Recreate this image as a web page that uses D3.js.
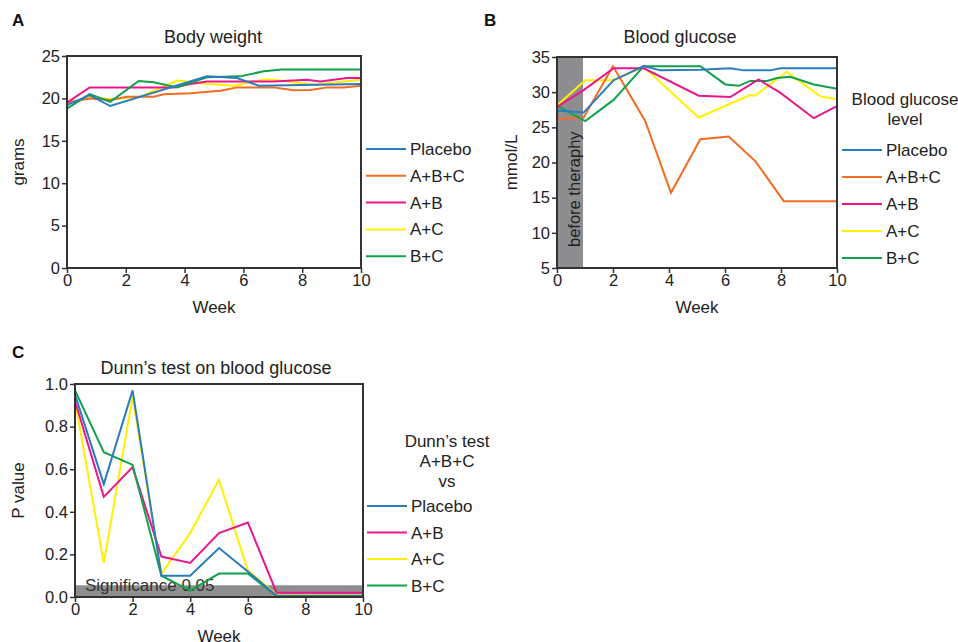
<!DOCTYPE html>
<html lang="en">
<head>
<meta charset="utf-8">
<script src="https://cdn.jsdelivr.net/npm/d3@7"></script>
<style>
  body { margin: 0; background: #fff; }
  svg { font-family: "Liberation Sans", Arial, sans-serif; }
  .axis path, .axis line { stroke: #333; }
  .axis text { fill: #222; font-size: 16.5px; }
</style>
</head>
<body>
<script>
// ---- data ----
var colors = { 'Placebo': '#2b7bbf', 'A+B+C': '#f26c22', 'A+B': '#ec168c', 'A+C': '#fff000', 'B+C': '#12a04b' };

// A: body weight (grams)
var bwPlaceboWeeks = [0, 0.77, 1.47, 4.76, 5.78, 6.52, 10];
var bwPlacebo      = [19.2, 20.4, 19.1, 22.6, 22.4, 21.5, 21.7];
var bwABCWeeks = [0, 0.77, 1.47, 2.04, 2.95, 3.29, 4.2, 5.22, 5.78, 7.03, 7.71, 8.28, 8.84, 9.41, 10];
var bwABC      = [19.5, 20.0, 19.8, 20.2, 20.2, 20.5, 20.6, 20.9, 21.3, 21.3, 20.95, 21.0, 21.3, 21.3, 21.5];
var bwABWeeks = [0, 0.77, 3.63, 4.2, 4.76, 7.03, 8.16, 8.62, 9.52, 10];
var bwAB      = [19.5, 21.3, 21.3, 21.7, 22.0, 22.0, 22.2, 22.0, 22.4, 22.4];
var bwACWeeks = [0, 0.77, 1.47, 2.49, 3.74, 4.54, 5.67, 6.8, 7.71, 8.39, 10];
var bwAC      = [19.4, 20.2, 19.9, 20.2, 22.1, 21.8, 21.5, 22.3, 21.9, 21.6, 22.2];
var bwBCWeeks = [0, 0.77, 1.47, 2.44, 2.95, 3.74, 4.76, 5.9, 6.69, 7.31, 10];
var bwBC      = [18.8, 20.5, 19.6, 22.05, 21.9, 21.3, 22.5, 22.6, 23.2, 23.4, 23.4];

// B: blood glucose (mmol/L)
var bgPlaceboWeeks = [0, 0.95, 2.02, 3.1, 3.69, 5.12, 6.19, 6.67, 7.62, 7.98, 10];
var bgPlacebo      = [27.4, 27.1, 31.7, 33.7, 33.1, 33.2, 33.4, 33.1, 33.1, 33.4, 33.4];
var bgABCWeeks = [0, 0.95, 2.0, 3.15, 4.07, 5.12, 6.13, 7.08, 8.1, 10];
var bgABC      = [26.2, 26.4, 33.7, 25.9, 15.7, 23.3, 23.7, 20.2, 14.5, 14.5];
var bgABWeeks = [0, 0.95, 2.02, 3.1, 5.06, 6.19, 7.2, 7.98, 9.17, 10];
var bgAB      = [27.9, 30.3, 33.4, 33.4, 29.5, 29.3, 31.8, 29.9, 26.3, 28.0];
var bgACWeeks = [0, 1.01, 2.02, 3.1, 5.06, 6.9, 7.08, 8.2, 9.4, 10];
var bgAC      = [28.1, 31.7, 31.7, 33.6, 26.4, 29.6, 29.5, 32.9, 29.4, 29.0];
var bgBCWeeks = [0, 1.01, 2.02, 3.1, 5.12, 6.01, 6.49, 6.9, 7.5, 7.86, 8.33, 9.17, 10];
var bgBC      = [28.1, 25.9, 28.9, 33.7, 33.7, 31.1, 30.9, 31.6, 31.6, 32.0, 32.2, 31.1, 30.5];
var beforeTherapy = [0, 0.93];

// C: Dunn's test p values, A+B+C vs ...
var dunnWeeks = [0, 1, 2, 3, 4, 5, 6, 7, 8, 9, 10];
var pPlacebo = [0.95, 0.53, 0.97, 0.10, 0.10, 0.23, 0.12, 0.006, 0.006, 0.006, 0.006];
var pAB      = [0.92, 0.47, 0.61, 0.19, 0.16, 0.30, 0.35, 0.02, 0.02, 0.02, 0.02];
var pAC      = [0.92, 0.16, 0.94, 0.11, 0.30, 0.55, 0.125, 0.01, 0.01, 0.01, 0.01];
var pBC      = [0.97, 0.68, 0.62, 0.10, 0.03, 0.11, 0.11, 0.005, 0.005, 0.005, 0.005];
var significance = 0.055;

var weekTicks = [0, 2, 4, 6, 8, 10];

function zip(xs, ys) { return xs.map(function (x, i) { return [x, ys[i]]; }); }

var svg = d3.select('body').append('svg').attr('width', 958).attr('height', 642);

function panel(o) {
    var x = d3.scaleLinear().domain([0, 10]).range([o.x0, o.x1]);
    var y = d3.scaleLinear().domain(o.yDomain).range([o.y1, o.y0]);
    var g = svg.append('g');

    if (o.before) {
        g.append('rect').attr('x', x(o.before[0])).attr('y', o.y0)
            .attr('width', x(o.before[1]) - x(o.before[0])).attr('height', o.y1 - o.y0)
            .attr('fill', '#8e8e91');
        g.append('text').attr('transform', 'translate(580,247) rotate(-90)')
            .attr('font-size', 16.5).attr('fill', '#222').text('before theraphy');
    }
    if (o.sig) {
        g.append('rect').attr('x', o.x0).attr('y', y(o.sig))
            .attr('width', o.x1 - o.x0).attr('height', o.y1 - y(o.sig))
            .attr('fill', '#8e8e91');
        g.append('text').attr('x', 85).attr('y', 591)
            .attr('font-size', 17).attr('fill', '#333').text('Significance 0.05');
    }

    var line = d3.line().x(function (d) { return x(d[0]); }).y(function (d) { return y(d[1]); });
    o.series.forEach(function (s) {
        g.append('path').datum(s.pts).attr('d', line)
            .attr('fill', 'none').attr('stroke', colors[s.name]).attr('stroke-width', 2);
    });

    g.append('rect').attr('x', o.x0).attr('y', o.y0).attr('width', o.x1 - o.x0).attr('height', o.y1 - o.y0)
        .attr('fill', 'none').attr('stroke', '#333').attr('stroke-width', 2);

    g.append('g').attr('class', 'axis').attr('transform', 'translate(0,' + o.y1 + ')')
        .call(d3.axisBottom(x).tickValues(o.xTicks).tickSize(5).tickPadding(1).tickSizeOuter(0))
        .call(function (a) { a.select('.domain').remove(); a.selectAll('line').attr('stroke-width', 1.5); });
    g.append('g').attr('class', 'axis').attr('transform', 'translate(' + o.x0 + ',0)')
        .call(d3.axisLeft(y).tickValues(o.yTicks).tickFormat(o.yFormat).tickSize(5).tickPadding(2).tickSizeOuter(0))
        .call(function (a) { a.select('.domain').remove(); a.selectAll('line').attr('stroke-width', 1.5); });

    svg.append('text').attr('x', o.labelX).attr('y', o.labelY).attr('font-size', 17)
        .attr('font-weight', 'bold').attr('fill', '#111').text(o.label);
    svg.append('text').attr('x', o.titleX).attr('y', o.titleY).attr('text-anchor', 'middle')
        .attr('font-size', 18).attr('fill', '#222').text(o.title);
    svg.append('text').attr('x', (o.x0 + o.x1) / 2).attr('y', o.y1 + 45).attr('text-anchor', 'middle')
        .attr('font-size', 17).attr('fill', '#222').text('Week');
    svg.append('text').attr('transform', 'translate(' + o.ylabX + ',' + ((o.y0 + o.y1) / 2) + ') rotate(-90)')
        .attr('text-anchor', 'middle').attr('font-size', 17).attr('fill', '#222').text(o.ylab);

    // legend
    o.legendTitle.forEach(function (t, i) {
        svg.append('text').attr('x', o.legTitleX).attr('y', o.legTitleY + i * 20)
            .attr('text-anchor', 'middle').attr('font-size', 17).attr('fill', '#222').text(t);
    });
    o.legendNames.forEach(function (n, i) {
        var yy = o.legY + i * o.legStep;
        svg.append('line').attr('x1', o.legX).attr('x2', o.legX + 40).attr('y1', yy).attr('y2', yy)
            .attr('stroke', colors[n]).attr('stroke-width', 2);
        svg.append('text').attr('x', o.legX + 44).attr('y', yy + 6)
            .attr('font-size', 17).attr('fill', '#222').text(n);
    });
}

panel({
    x0: 67, x1: 361, y0: 56, y1: 268, yDomain: [0, 25],
    xTicks: weekTicks, yTicks: [0, 5, 10, 15, 20, 25], yFormat: d3.format('d'),
    label: 'A', labelX: 12, labelY: 26, title: 'Body weight', titleX: 213, titleY: 43,
    ylab: 'grams', ylabX: 24,
    series: [
        { name: 'A+C', pts: zip(bwACWeeks, bwAC) },
        { name: 'A+B+C', pts: zip(bwABCWeeks, bwABC) },
        { name: 'A+B', pts: zip(bwABWeeks, bwAB) },
        { name: 'B+C', pts: zip(bwBCWeeks, bwBC) },
        { name: 'Placebo', pts: zip(bwPlaceboWeeks, bwPlacebo) }
    ],
    legendTitle: [], legendNames: ['Placebo', 'A+B+C', 'A+B', 'A+C', 'B+C'],
    legX: 366, legY: 149, legStep: 26.8
});

panel({
    x0: 557, x1: 837, y0: 57, y1: 268, yDomain: [5, 35],
    xTicks: weekTicks, yTicks: [5, 10, 15, 20, 25, 30, 35], yFormat: d3.format('d'),
    label: 'B', labelX: 484, labelY: 26, title: 'Blood glucose', titleX: 680, titleY: 43,
    ylab: 'mmol/L', ylabX: 517, before: beforeTherapy,
    series: [
        { name: 'A+C', pts: zip(bgACWeeks, bgAC) },
        { name: 'A+B+C', pts: zip(bgABCWeeks, bgABC) },
        { name: 'B+C', pts: zip(bgBCWeeks, bgBC) },
        { name: 'A+B', pts: zip(bgABWeeks, bgAB) },
        { name: 'Placebo', pts: zip(bgPlaceboWeeks, bgPlacebo) }
    ],
    legendTitle: ['Blood glucose', 'level'], legTitleX: 905, legTitleY: 105,
    legendNames: ['Placebo', 'A+B+C', 'A+B', 'A+C', 'B+C'],
    legX: 842, legY: 150, legStep: 27
});

panel({
    x0: 75, x1: 363, y0: 384, y1: 597, yDomain: [0, 1],
    xTicks: weekTicks, yTicks: [0, 0.2, 0.4, 0.6, 0.8, 1.0], yFormat: d3.format('.1f'),
    label: 'C', labelX: 12, labelY: 358, title: 'Dunn\u2019s test on blood glucose', titleX: 216, titleY: 374,
    ylab: 'P value', ylabX: 24, sig: significance,
    series: [
        { name: 'A+C', pts: zip(dunnWeeks, pAC) },
        { name: 'A+B', pts: zip(dunnWeeks, pAB) },
        { name: 'B+C', pts: zip(dunnWeeks, pBC) },
        { name: 'Placebo', pts: zip(dunnWeeks, pPlacebo) }
    ],
    legendTitle: ['Dunn\u2019s test', 'A+B+C', 'vs'], legTitleX: 447, legTitleY: 447,
    legendNames: ['Placebo', 'A+B', 'A+C', 'B+C'],
    legX: 367, legY: 506, legStep: 26.5
});
</script>
</body>
</html>
